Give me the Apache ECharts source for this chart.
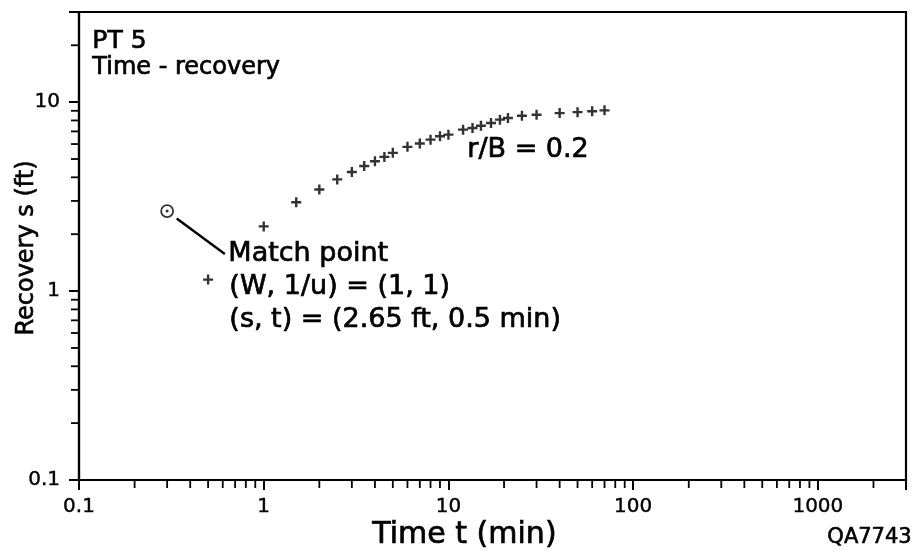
<!DOCTYPE html>
<html><head><meta charset="utf-8">
<script src="https://cdn.jsdelivr.net/npm/echarts@6/dist/echarts.min.js"></script>
<style>html,body{margin:0;padding:0;background:#fff}#c{width:917px;height:552px}</style>
</head><body><div id="c"></div>
<script>
// ---- data ----
const timeMin = [0.5, 1, 1.5, 2, 2.5, 3, 3.5, 4, 4.5, 5, 6, 7, 8, 9, 10, 12, 13.5, 15, 17, 19, 21, 25, 30, 40, 50, 60, 70];
const recoveryFt = [1.15, 2.2, 2.95, 3.45, 3.9, 4.27, 4.59, 4.87, 5.13, 5.39, 5.8, 6.04, 6.33, 6.6, 6.73, 7.15, 7.3, 7.5, 7.75, 8.08, 8.25, 8.47, 8.58, 8.75, 8.85, 8.95, 9.05];
const matchPointT = [0.3];
const matchPointS = [2.65];
const leaderT = [0.338, 0.616];
const leaderS = [2.42, 1.57];
const xMinorTicks = [0.2,0.3,0.4,0.5,0.6,0.7,0.8,0.9, 2,3,4,5,6,7,8,9, 20,30,40,50,60,70,80,90, 200,300,400,500,600,700,800,900, 2000,3000];
const yMinorTicks = [0.2,0.3,0.4,0.5,0.6,0.7,0.8,0.9, 2,3,4,5,6,7,8,9, 20,30];
const xRange = [0.1, 3000];
const yRange = [0.1, 30];

const FONT = 'DejaVu Sans';
const chart = echarts.init(document.getElementById('c'), null, {renderer: 'canvas'});

function decadeLabel(v) {
  const l = Math.log10(v);
  if (Math.abs(l - Math.round(l)) > 1e-6) return '';
  return v < 1 ? '0.1' : String(Math.round(v));
}

const axisCommon = {
  type: 'log', logBase: 10,
  axisLine: {show: true, lineStyle: {color: '#000', width: 2.2}},
  axisTick: {show: true, inside: false, length: 10, lineStyle: {color: '#000', width: 2}},
  splitLine: {show: false},
  minorTick: {show: false},
  axisLabel: {color: '#000', fontFamily: FONT, fontSize: 20, formatter: decadeLabel, margin: 17,
              textBorderColor: '#000', textBorderWidth: 0.4}
};

function txt(x, y, s, size, extra) {
  return Object.assign({type: 'text', left: x, top: y, silent: true,
    style: {text: s, font: size + 'px "' + FONT + '"', fill: '#000', stroke: '#000', lineWidth: 0.7}}, extra || {});
}

chart.setOption({
  animation: false,
  backgroundColor: '#fff',
  grid: {left: 79, top: 12, right: 11, bottom: 72, containLabel: false, outerBoundsMode: 'none',
         show: true, borderColor: '#000', borderWidth: 2.2, backgroundColor: 'transparent'},
  xAxis: Object.assign({}, axisCommon, {min: xRange[0], max: xRange[1]}),
  yAxis: Object.assign({}, axisCommon, {
    min: yRange[0], max: yRange[1],
    axisLabel: Object.assign({}, axisCommon.axisLabel, {margin: 19})
  }),
  series: [
    {
      type: 'custom', silent: true, clip: false,
      data: xMinorTicks.map(v => [v, yRange[0]]),
      encode: {x: 0, y: 1},
      renderItem: function (params, api) {
        const p = api.coord([api.value(0), api.value(1)]);
        return {type: 'line', shape: {x1: p[0], y1: p[1], x2: p[0], y2: p[1] + 8},
                style: {stroke: '#000', lineWidth: 1.8}};
      }
    },
    {
      type: 'custom', silent: true, clip: false,
      data: yMinorTicks.map(v => [xRange[0], v]),
      encode: {x: 0, y: 1},
      renderItem: function (params, api) {
        const p = api.coord([api.value(0), api.value(1)]);
        return {type: 'line', shape: {x1: p[0] - 8, y1: p[1], x2: p[0], y2: p[1]},
                style: {stroke: '#000', lineWidth: 1.8}};
      }
    },
    {
      name: 'r/B = 0.2', type: 'scatter',
      symbol: 'path://M3.8,0H6.2V3.8H10V6.2H6.2V10H3.8V6.2H0V3.8H3.8Z', symbolSize: 10,
      itemStyle: {color: '#000'},
      data: timeMin.map((t, i) => [t, recoveryFt[i]])
    },
    {
      type: 'line', symbol: 'none', silent: true,
      lineStyle: {color: '#000', width: 2.4},
      data: leaderT.map((t, i) => [t, leaderS[i]])
    },
    {
      type: 'scatter', symbol: 'circle', symbolSize: 12,
      itemStyle: {color: '#fff', borderColor: '#000', borderWidth: 1.8},
      data: matchPointT.map((t, i) => [t, matchPointS[i]])
    },
    {
      type: 'scatter', symbol: 'circle', symbolSize: 3, z: 5,
      itemStyle: {color: '#000'},
      data: matchPointT.map((t, i) => [t, matchPointS[i]])
    }
  ],
  graphic: [
    txt(92, 29, 'PT 5', 25),
    txt(92, 55, 'Time - recovery', 24),
    txt(467, 136, 'r/B = 0.2', 27),
    txt(228, 240, 'Match point', 27),
    txt(229, 273, '(W, 1/u) = (1, 1)', 27),
    txt(229, 306, '(s, t) = (2.65 ft, 0.5 min)', 27),
    txt(372, 520, 'Time t (min)', 30),
    {type: 'text', x: 27, y: 248, rotation: Math.PI / 2, silent: true,
     style: {text: 'Recovery s (ft)', font: '24px "' + FONT + '"', fill: '#000', stroke: '#000', lineWidth: 0.6,
             align: 'center', verticalAlign: 'middle'}},
    {type: 'text', right: 5, top: 527, silent: true,
     style: {text: 'QA7743', font: '21px "' + FONT + '"', fill: '#000', stroke: '#000', lineWidth: 0.6}}
  ]
});
</script>
</body></html>
